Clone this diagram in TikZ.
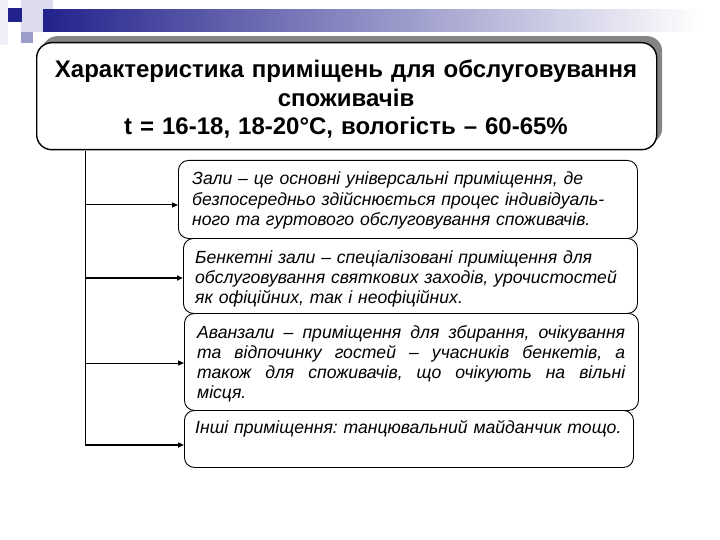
\documentclass[tikz,border=0pt]{standalone}
\usepackage{fontspec}
\setmainfont{Liberation Sans}
\usetikzlibrary{arrows.meta}
\frenchspacing
\definecolor{tplblue}{HTML}{22228C}
\definecolor{tpllav}{HTML}{9C9CCC}
\definecolor{tplpale}{HTML}{DCDCEE}
\definecolor{tplpaler}{HTML}{EEEEF6}
\definecolor{shadowgray}{HTML}{848484}
\tikzset{
  itembox/.style={draw=black, line width=0.9pt, rounded corners=10pt, fill=white, inner sep=0pt, anchor=north west},
  hdrbox/.style={draw=black, line width=1.4pt, rounded corners=15pt, fill=white, inner sep=0pt, anchor=north west, minimum width=620pt, minimum height=107pt},
  hdrshadow/.style={draw=none, fill=shadowgray, rounded corners=15pt, inner sep=0pt, anchor=north west, minimum width=620pt, minimum height=107pt},
  hdrtext/.style={font=\fontsize{24}{28.5}\selectfont\bfseries\frenchspacing, text width=620pt, align=center, inner sep=0pt, anchor=base},
  itemtext/.style={font=\fontsize{17.6}{20.3}\selectfont\itshape\frenchspacing, inner sep=0pt, anchor=base west},
  conn/.style={draw=black, line width=1pt, -{Triangle[length=6pt,width=5pt]}},
  line/.style={draw=black, line width=1pt}
}
\begin{document}
\begin{tikzpicture}[x=1pt,y=-1pt]
\useasboundingbox (0,0) rectangle (720,540);
\fill[white] (0,0) rectangle (720,540);
% template decoration
\fill[tplpaler] (0,0) rectangle (8,45);
\fill[tplpale] (21,0) rectangle (53,32);
\shade[left color=tplblue, right color=white] (43,10) rectangle (700,32);
\fill[tpllav] (21,32) rectangle (33,43);
\fill[tplblue] (8,8) rectangle (22,22);
% header
\node[hdrshadow] (hdrsh) at (42,36) {};
\node[hdrbox] (hdr) at (36,42) {};
\node[hdrtext] (ht) at (346,78) {Характеристика приміщень для обслуговування\\споживачів\\t = 16-18, 18-20°C, вологість – 60-65\%};
% item boxes
\node[itembox, minimum width=459pt, minimum height=78pt] (b1) at (178,160) {};
\node[itembox, minimum width=454pt, minimum height=75pt] (b2) at (183,238) {};
\node[itembox, minimum width=454pt, minimum height=97pt] (b3) at (184,313) {};
\node[itembox, minimum width=449pt, minimum height=57pt] (b4) at (184,410) {};
\node[itemtext, text width=445pt, align=left] (t1) at (192,185) {Зали – це основні універсальні приміщення, де\\безпосередньо здійснюється процес індивідуаль-\\ного та гуртового обслуговування споживачів.};
\node[itemtext, text width=440pt, align=left] (t2) at (195,263) {Бенкетні зали – спеціалізовані приміщення для\\обслуговування святкових заходів, урочистостей\\як офіційних, так і неофіційних.};
\node[itemtext, text width=428pt, align=justify] (t3) at (197,338) {Аванзали – приміщення для збирання, очікування\linebreak{} та відпочинку гостей – учасників бенкетів, а\linebreak{} також для споживачів, що очікують на вільні\linebreak{} місця.};
\node[itemtext, text width=440pt, align=left] (t4) at (195,433) {Інші приміщення: танцювальний майданчик тощо.};
% connectors
\coordinate (vtop) at (85,151);
\coordinate (v1) at (85,205);
\coordinate (v2) at (85,278);
\coordinate (v3) at (85,363);
\coordinate (vbot) at (85,445);
\draw[line] (vtop) -- (vbot);
\draw[conn] (v1) -- (b1.west |- v1);
\draw[conn, line width=1.5pt] (v2) -- (b2.west |- v2);
\draw[conn] (v3) -- (b3.west |- v3);
\draw[conn, line width=1.5pt] (vbot) -- (b4.west |- vbot);
\end{tikzpicture}
\end{document}
